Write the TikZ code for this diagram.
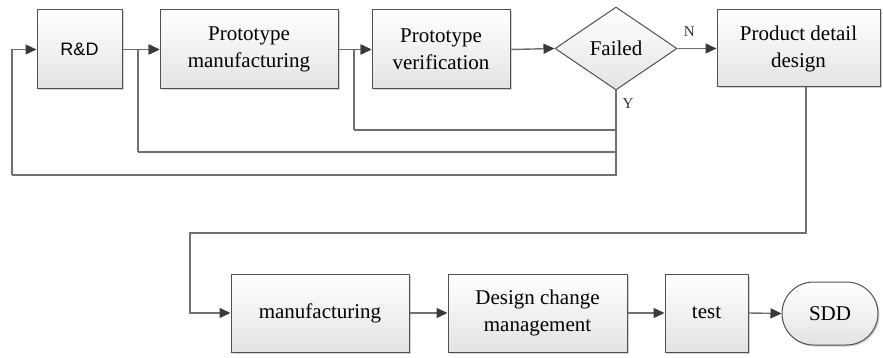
\documentclass[tikz,border=0pt]{standalone}
\usepackage{fontspec}
\setmainfont{Liberation Serif}
\newfontfamily\serf{Liberation Serif}
\newfontfamily\arialf{Liberation Sans}
\usetikzlibrary{shapes.geometric,shapes.misc,shadows,arrows.meta}
\definecolor{linec}{HTML}{707070}
\definecolor{tipc}{HTML}{3A3A3A}
\definecolor{boxline}{HTML}{505050}
\tikzset{
  procbox/.style={draw=boxline, line width=1pt, rectangle, top color=white, bottom color=gray!22,
    drop shadow={opacity=0.35, shadow xshift=1.5pt, shadow yshift=-1.5pt},
    inner sep=0pt, align=center, font=\serf\fontsize{21}{27}\selectfont},
  decbox/.style={draw=boxline, line width=1pt, diamond, aspect=1.47, top color=white, bottom color=gray!22,
    inner sep=0pt, minimum width=122pt, minimum height=83pt, font=\serf\fontsize{21}{27}\selectfont},
  termbox/.style={draw=boxline, line width=1pt, rounded rectangle, top color=white, bottom color=gray!22,
    drop shadow={opacity=0.35, shadow xshift=1.5pt, shadow yshift=-1.5pt},
    inner sep=0pt, font=\serf\fontsize{21}{27}\selectfont},
  conn/.style={draw=linec, line width=1.4pt, -{Triangle[length=11pt,width=10pt,fill=tipc,color=tipc]}},
  plain/.style={draw=linec, line width=1.4pt},
  lbl/.style={font=\serf\fontsize{15}{17}\selectfont, text=black!80, inner sep=0pt}
}
\begin{document}
\begin{tikzpicture}[x=1pt,y=-1pt]
\useasboundingbox (0,0) rectangle (883,358);
\node[procbox, minimum width=85pt, minimum height=79pt, font=\arialf\fontsize{18}{22}\selectfont] (rd) at (79.5,49.5) {R\&D};
\node[procbox, minimum width=178pt, minimum height=79pt] (pm) at (249,49.5) {Prototype\\manufacturing};
\node[procbox, minimum width=138pt, minimum height=79pt] (pv) at (441,49.5) {Prototype\\verification};
\node[decbox] (fd) at (616,48.5) {Failed};
\node[procbox, minimum width=163pt, minimum height=77pt] (pd) at (798.5,48.5) {Product detail\\design};
\node[procbox, minimum width=178pt, minimum height=78pt] (mf) at (320,313) {manufacturing};
\node[procbox, minimum width=179pt, minimum height=78pt] (dc) at (537.5,313) {Design change\\management};
\node[procbox, minimum width=83pt, minimum height=78pt] (ts) at (706.5,313) {test};
\node[termbox, minimum width=96pt, minimum height=63pt] (sdd) at (830,313.5) {SDD};

\coordinate (l0) at (12,175);
\coordinate (l1) at (138,152);
\coordinate (l2) at (354,130);
\coordinate (d1) at (806,233);
\coordinate (d2) at (190,233);

\draw[conn] (rd.east) -- (pm.west);
\draw[conn] (pm.east) -- (pv.west);
\draw[conn] (pv.east) -- (fd.west);
\draw[conn] (fd.east) -- node[lbl, pos=0.3, above=11pt] {N} (pd.west);

\draw[plain] (fd.south) -- (fd.south |- l0) -- (l0);
\draw[conn] (l0) -- (l0 |- rd.west) -- (rd.west);
\draw[plain] (fd.south |- l1) -- (l1);
\draw[conn] (l1) -- (l1 |- pm.west) -- (pm.west);
\draw[plain] (fd.south |- l2) -- (l2);
\draw[conn] (l2) -- (l2 |- pv.west) -- (pv.west);
\node[lbl] (ylab) at (628,104) {Y};

\draw[conn] (pd.south -| d1) -- (d1) -- (d2) -- (d2 |- mf.west) -- (mf.west);
\draw[conn] (mf.east) -- (dc.west);
\draw[conn] (dc.east) -- (ts.west);
\draw[conn] (ts.east) -- (sdd.west);
\end{tikzpicture}
\end{document}
